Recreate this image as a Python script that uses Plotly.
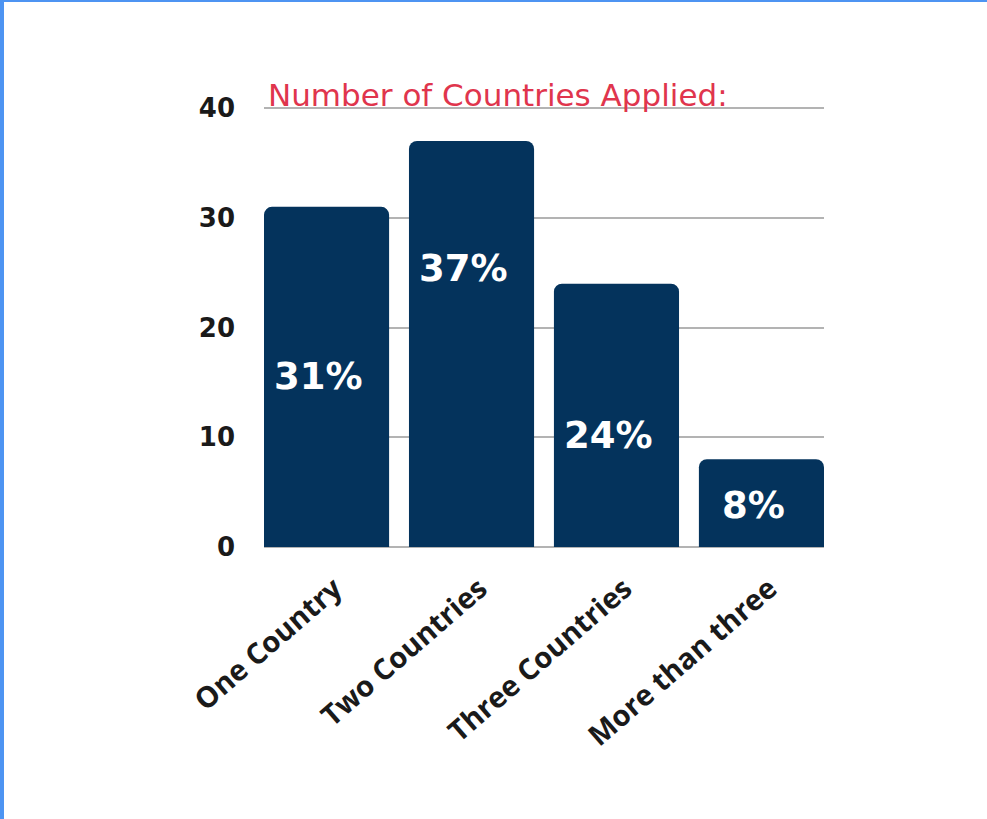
import plotly.graph_objects as go

# Survey data: how many countries respondents applied to
categories = ["One Country", "Two Countries", "Three Countries", "More than three"]
values = [31, 37, 24, 8]
labels = ["31%", "37%", "24%", "8%"]
label_y = [15.5, 25.4, 10.2, 3.8]  # vertical placement of the in-bar labels

NAVY = "#04335c"
RED = "#e0354d"
GRID = "#b3b3b3"
BORDER = "#4d94f2"

W, H = 987, 819
L, R, T, B = 264, 163, 107, 272
pw, ph = W - L - R, H - T - B
BARGAP = 0.137


def px_x(px):
    return (px - L) / pw


def px_y(py):
    return (H - B - py) / ph


fig = go.Figure(
    go.Bar(
        x=categories,
        y=values,
        marker=dict(color=NAVY, cornerradius=8, line=dict(width=0)),
        hoverinfo="x+y",
    )
)

for cat, lab, ly in zip(categories, labels, label_y):
    fig.add_annotation(
        x=cat, y=ly, text=lab, showarrow=False, xshift=-8,
        font=dict(family="DejaVu Sans", size=37, color="white", weight="bold"),
    )

fig.add_annotation(
    xref="paper", yref="y", x=0.0, y=40, xanchor="left", yanchor="bottom",
    xshift=2, yshift=-7, showarrow=False, text="Number of Countries Applied:",
    font=dict(family="DejaVu Sans", size=31, color=RED),
)

# thin blue frame on the left and top edges of the page
fig.add_shape(type="rect", xref="paper", yref="paper", layer="above",
              x0=px_x(0), x1=px_x(4), y0=px_y(H), y1=px_y(0),
              fillcolor=BORDER, line=dict(width=0))
fig.add_shape(type="rect", xref="paper", yref="paper", layer="above",
              x0=px_x(0), x1=px_x(W), y0=px_y(2), y1=px_y(0),
              fillcolor=BORDER, line=dict(width=0))

half = BARGAP / 2
fig.update_layout(
    width=W, height=H,
    margin=dict(l=L, r=R, t=T, b=B),
    paper_bgcolor="white", plot_bgcolor="white",
    bargap=BARGAP, showlegend=False,
    xaxis=dict(
        range=[-0.5 + half, len(categories) - 0.5 - half],
        tickangle=-41, showgrid=False, showline=False, ticks="",
        ticklabelstandoff=18, ticklabelshift=8,
        tickfont=dict(family="Open Sans", size=29, color="#1a1a1a", weight="bold"),
    ),
    yaxis=dict(
        range=[0, 40.1], tickvals=[0, 10, 20, 30, 40], showgrid=True,
        gridcolor=GRID, gridwidth=2, zeroline=True, zerolinecolor=GRID,
        zerolinewidth=2, showline=False, ticks="", ticklabelstandoff=28,
        tickfont=dict(family="DejaVu Sans", size=26, color="#1a1a1a", weight="bold"),
    ),
)

fig.write_html("out.html")
